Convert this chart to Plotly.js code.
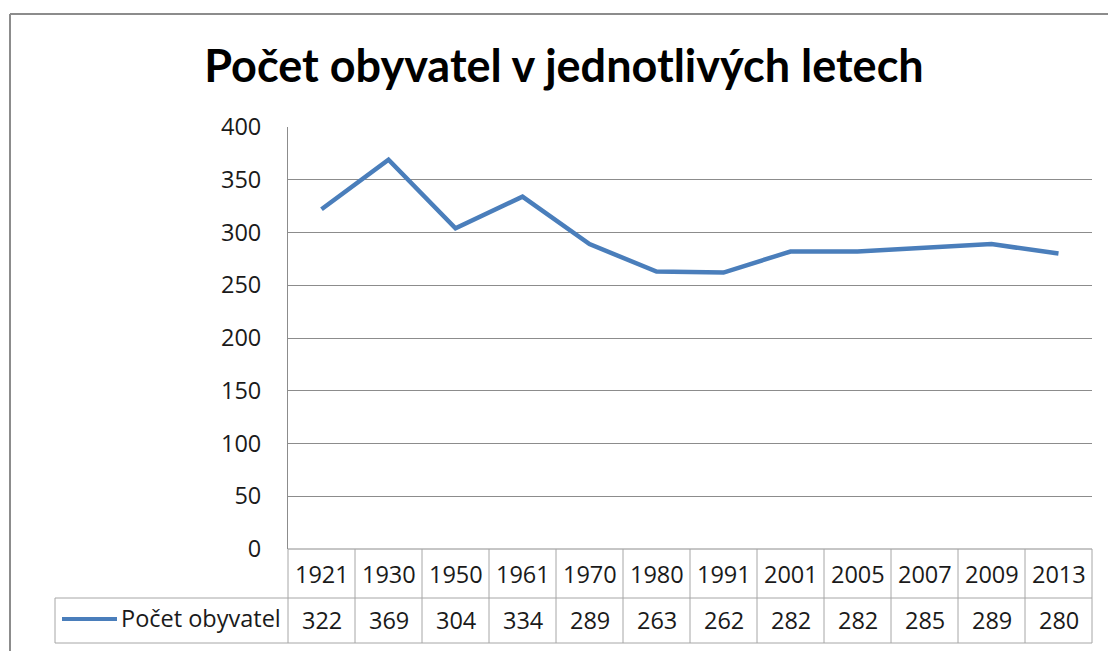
<!DOCTYPE html>
<html>
<head>
<meta charset="utf-8">
<script src="https://cdn.plot.ly/plotly-3.0.1.min.js"></script>
<style>html,body{margin:0;padding:0;background:#fff;}#chart{width:1108px;height:651px;}</style>
</head>
<body>
<div id="chart"></div>
<script>
const years = ["1921","1930","1950","1961","1970","1980","1991","2001","2005","2007","2009","2013"];
const population = [322, 369, 304, 334, 289, 263, 262, 282, 282, 285, 289, 280];
const seriesName = "Počet obyvatel";
const titleText = "Počet obyvatel v jednotlivých letech";
const yTicks = [0, 50, 100, 150, 200, 250, 300, 350, 400];

const FONT = "'Open Sans', sans-serif";
const TFONT = "Lato, 'Open Sans', sans-serif";
const W = 1108, H = 651;
const L = 288, R = 1092, T = 127, B = 549;
const pw = R - L, ph = B - T;
const px = x => (x - L) / pw;
const py = y => (B - y) / ph;
const n = years.length;
const tableColor = "#a6a6a6";
const gridColor = "#8c8c8c";
const blue = "#4a7ebb";
const txt = "#1a1a1a";
const FS = 23.5;

const shapes = [];
// outer chart border (left and top)
shapes.push({type:"line", xref:"paper", yref:"paper", x0:px(10), x1:px(10), y0:py(14), y1:py(660), line:{color:"#8c8c8c", width:2}});
shapes.push({type:"line", xref:"paper", yref:"paper", x0:px(10), x1:px(1115), y0:py(14), y1:py(14), line:{color:"#8c8c8c", width:2}});
// x axis line at zero
shapes.push({type:"line", xref:"paper", yref:"paper", x0:0, x1:1, y0:0, y1:0, line:{color:gridColor, width:1}});
// data table lines
shapes.push({type:"line", xref:"paper", yref:"paper", x0:px(55), x1:1, y0:py(598), y1:py(598), line:{color:tableColor, width:1}});
shapes.push({type:"line", xref:"paper", yref:"paper", x0:px(55), x1:1, y0:py(643), y1:py(643), line:{color:tableColor, width:1}});
shapes.push({type:"line", xref:"paper", yref:"paper", x0:px(55), x1:px(55), y0:py(598), y1:py(643), line:{color:tableColor, width:1}});
for (let i = 0; i <= n; i++) {
  shapes.push({type:"line", xref:"paper", yref:"paper", x0:i/n, x1:i/n, y0:0, y1:py(643), line:{color:tableColor, width:1}});
}
// legend key line
shapes.push({type:"line", xref:"paper", yref:"paper", x0:px(62), x1:px(117), y0:py(619), y1:py(619), line:{color:blue, width:4}});

const annotations = [];
years.forEach((yr, i) => {
  annotations.push({xref:"x", yref:"paper", x:i, y:py(574), text:yr, showarrow:false, xanchor:"center", yanchor:"middle", font:{family:FONT, size:FS, color:txt}});
  annotations.push({xref:"x", yref:"paper", x:i, y:py(620), text:String(population[i]), showarrow:false, xanchor:"center", yanchor:"middle", font:{family:FONT, size:FS, color:txt}});
});
annotations.push({xref:"paper", yref:"paper", x:px(283), y:py(618), text:seriesName, showarrow:false, xanchor:"right", yanchor:"middle", font:{family:FONT, size:FS, color:txt}});

const trace = {
  type:"scatter", mode:"lines", x:years, y:population, name:seriesName,
  line:{color:blue, width:4.5}, hoverinfo:"x+y"
};

const layout = {
  width:W, height:H,
  margin:{l:L, r:W-R, t:T, b:H-B, pad:0},
  paper_bgcolor:"#fff", plot_bgcolor:"#fff",
  showlegend:false,
  title:{text:"<b>"+titleText+"</b>", x:564/W, xanchor:"center", xref:"container", y:1-66/H, yanchor:"middle", yref:"container", font:{family:TFONT, size:45, color:"#000"}},
  xaxis:{type:"category", showticklabels:false, showgrid:false, zeroline:false, showline:false, ticks:"", range:[-0.5, n-0.5], fixedrange:true},
  yaxis:{range:[0,400], tickvals:yTicks, ticktext:yTicks.map(String), showgrid:true, gridcolor:gridColor, gridwidth:1, zeroline:false, showline:true, linecolor:gridColor, linewidth:1, ticks:"", ticklabelstandoff:21, tickfont:{family:FONT, size:FS, color:txt}, fixedrange:true},
  shapes:shapes,
  annotations:annotations
};

Plotly.newPlot("chart", [trace], layout, {displayModeBar:false, staticPlot:true});
</script>
</body>
</html>
